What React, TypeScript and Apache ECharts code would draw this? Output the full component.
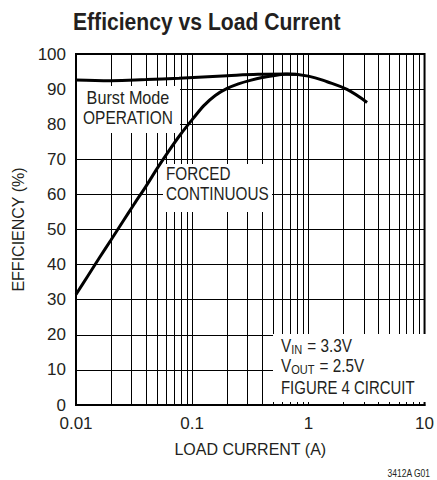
import React, { useEffect, useRef } from "react";
import * as echarts from "echarts";

const FONT = "'Liberation Sans', Arial, sans-serif";

const Y_TICKS = [0, 10, 20, 30, 40, 50, 60, 70, 80, 90, 100];
const MINOR_GRID_X = [
  0.02, 0.03, 0.04, 0.05, 0.06, 0.07, 0.08, 0.09,
  0.2, 0.3, 0.4, 0.5, 0.6, 0.7, 0.8, 0.9,
  2, 3, 4, 5, 6, 7, 8, 9,
];

const burstCurrent = [0.01, 0.02, 0.04, 0.077, 0.2, 0.37, 0.66, 1.0, 1.45, 2.15, 3.2];
const burstEff = [92.6, 92.4, 92.7, 93.1, 93.8, 94.2, 94.3, 93.7, 92.1, 89.9, 86.2];

const forcedCurrent = [
  0.01, 0.0126, 0.0158, 0.02, 0.025, 0.0316, 0.04, 0.05, 0.063, 0.079,
  0.1, 0.126, 0.158, 0.2, 0.25, 0.316, 0.4, 0.5, 0.63, 0.79,
];
const forcedEff = [
  31.5, 36.7, 41.8, 47.0, 52.0, 57.2, 62.3, 67.4, 72.4, 77.0,
  81.3, 85.3, 88.2, 90.2, 91.5, 92.5, 93.3, 93.8, 94.2, 94.2,
];

const TEXT_COLOR = "#231f20";

export default function App() {
  const ref = useRef<HTMLDivElement>(null);
  useEffect(() => {
    if (!ref.current) return;
    const chart = echarts.init(ref.current, null, { renderer: "svg" });
    const t = (text: string, x: number, y: number, fontSize: number, scaleX: number, align = "left", extra: any = {}) => ({
      type: "text",
      z: 6,
      x,
      y,
      scaleX,
      style: {
        text,
        fontFamily: FONT,
        fill: TEXT_COLOR,
        fontSize,
        textAlign: align,
        textVerticalAlign: "middle",
        ...extra,
      },
    });
    const richSub = {
      m: { fontFamily: FONT, fontSize: 18, lineHeight: 20, color: TEXT_COLOR },
      s: { fontFamily: FONT, fontSize: 13, lineHeight: 12, color: TEXT_COLOR, verticalAlign: "bottom", padding: [0, 1, 0, 0] },
    };
    chart.setOption({
      animation: false,
      backgroundColor: "#fff",
      grid: {
        left: 76,
        right: 9,
        top: 54,
        bottom: 75,
        show: true,
        borderColor: "#000",
        borderWidth: 2,
      },
      xAxis: {
        type: "log",
        min: 0.01,
        max: 10,
        logBase: 10,
        name: "LOAD CURRENT (A)",
        nameLocation: "middle",
        nameGap: 36,
        nameTextStyle: { fontFamily: FONT, fontSize: 16, color: TEXT_COLOR },
        axisLine: { show: true, lineStyle: { color: "#000", width: 2 } },
        axisTick: { show: false },
        axisLabel: {
          fontFamily: FONT,
          fontSize: 17,
          color: TEXT_COLOR,
          margin: 10,
          formatter: (v: number) => String(parseFloat(v.toPrecision(3))),
        },
        splitLine: { show: true, lineStyle: { color: "#000", width: 1 } },
      },
      yAxis: {
        type: "value",
        min: Y_TICKS[0],
        max: Y_TICKS[Y_TICKS.length - 1],
        interval: 10,
        name: "EFFICIENCY (%)",
        nameLocation: "middle",
        nameGap: 49,
        nameTextStyle: { fontFamily: FONT, fontSize: 16, color: TEXT_COLOR },
        axisLine: { show: true, lineStyle: { color: "#000", width: 2 } },
        axisTick: { show: false },
        axisLabel: { fontFamily: FONT, fontSize: 17, color: TEXT_COLOR, margin: 10 },
        splitLine: { show: true, lineStyle: { color: "#000", width: 1 } },
      },
      graphic: [
        t("Efficiency vs Load Current", 73, 22, 24, 0.88, "left", { fontWeight: "bold" }),
        { type: "rect", z: 5, shape: { x: 77, y: 86, width: 103, height: 47 }, style: { fill: "#fff" } },
        t("Burst Mode", 128, 98, 18, 0.9, "center"),
        t("OPERATION", 128, 118, 18, 0.86, "center"),
        { type: "rect", z: 5, shape: { x: 163, y: 164, width: 109, height: 48 }, style: { fill: "#fff" } },
        t("FORCED", 166, 174, 18, 0.85),
        t("CONTINUOUS", 166, 194, 18, 0.85),
        { type: "rect", z: 5, shape: { x: 273, y: 334, width: 154, height: 68 }, style: { fill: "#fff" } },
        t("", 281, 346, 18, 0.85, "left", { text: "{m|V}{s|IN}{m| = 3.3V}", rich: richSub }),
        t("", 281, 366, 18, 0.85, "left", { text: "{m|V}{s|OUT}{m| = 2.5V}", rich: richSub }),
        t("FIGURE 4 CIRCUIT", 281, 388, 18, 0.83),
        t("3412A G01", 430, 474, 10, 0.85, "right"),
      ],
      series: [
        {
          type: "line",
          name: "grid",
          z: 1,
          data: [[0.01, 0]],
          symbol: "none",
          lineStyle: { opacity: 0 },
          silent: true,
          markLine: {
            z: 1,
            silent: true,
            symbol: "none",
            label: { show: false },
            lineStyle: { color: "#000", width: 1, type: "solid" },
            data: MINOR_GRID_X.map((v) => ({ xAxis: v })),
          },
        },
        {
          type: "line",
          name: "Burst Mode",
          z: 10,
          smooth: 0.4,
          symbol: "none",
          lineStyle: { color: "#000", width: 3 },
          data: burstCurrent.map((c, i) => [c, burstEff[i]]),
        },
        {
          type: "line",
          name: "Forced Continuous",
          z: 10,
          smooth: 0.3,
          symbol: "none",
          lineStyle: { color: "#000", width: 3 },
          data: forcedCurrent.map((c, i) => [c, forcedEff[i]]),
        },
      ],
    });
    return () => chart.dispose();
  }, []);
  return <div ref={ref} style={{ position: "fixed", left: 0, top: 0, width: 437, height: 480 }} />;
}
